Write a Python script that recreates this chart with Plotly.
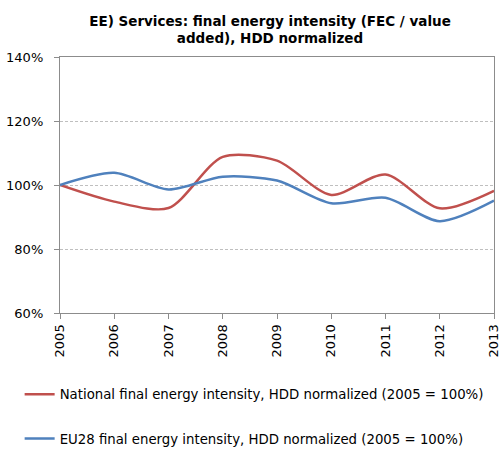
import plotly.graph_objects as go

years = ["2005", "2006", "2007", "2008", "2009", "2010", "2011", "2012", "2013"]
national = [100.0, 94.8, 92.8, 108.8, 107.6, 96.9, 103.3, 92.7, 98.2]
eu28 = [100.0, 103.8, 98.6, 102.6, 101.4, 94.3, 96.0, 88.7, 95.1]
y_ticks = [60, 80, 100, 120, 140]
y_tick_labels = ["60%", "80%", "100%", "120%", "140%"]
name_national = "National final energy intensity, HDD normalized (2005 = 100%)"
name_eu = "EU28 final energy intensity, HDD normalized (2005 = 100%)"
title = "EE) Services: final energy intensity (FEC / value<br>added), HDD normalized"

FONT = "DejaVu Sans, Liberation Sans, Arial, sans-serif"

fig = go.Figure()
fig.add_trace(go.Scatter(x=years, y=national, mode="lines", name=name_national,
                         line=dict(color="#C0504D", width=2.5, shape="spline", smoothing=0.8),
                         legendgroup="a"))
fig.add_trace(go.Scatter(x=years, y=eu28, mode="lines", name=name_eu,
                         line=dict(color="#4F81BD", width=2.5, shape="spline", smoothing=0.8),
                         legendgroup="b"))

fig.update_layout(
    width=502, height=454,
    margin=dict(l=60, r=8, t=57, b=141, autoexpand=False),
    paper_bgcolor="white", plot_bgcolor="white",
    font=dict(family=FONT, size=13, color="#000000"),
    title=dict(text="<b>" + title + "</b>", x=270 / 502, xref="container", xanchor="center",
               y=1 - 25.5 / 454, yref="container", yanchor="middle",
               font=dict(size=13.5, color="#000000"), automargin=False),
    showlegend=True,
    legend=dict(x=-0.093, y=-0.258, xanchor="left", yanchor="top", orientation="v",
                tracegroupgap=24, font=dict(size=13.3), bgcolor="rgba(0,0,0,0)"),
    xaxis=dict(type="category", range=[0, 8], showline=True, linecolor="#8c8c8c", linewidth=1.3,
               mirror=True, ticks="outside", ticklen=5, tickcolor="#8c8c8c", tickangle=-90,
               showgrid=False, zeroline=False, tickfont=dict(size=13), automargin=False),
    yaxis=dict(range=[60, 140], tickvals=y_ticks, ticktext=y_tick_labels, showline=True,
               linecolor="#8c8c8c", linewidth=1.3, mirror=True, ticks="outside", ticklen=5,
               tickcolor="#8c8c8c", showgrid=True, gridcolor="#BFBFBF", griddash="3px,2px",
               gridwidth=1, zeroline=False, tickfont=dict(size=13), automargin=False,
               ticklabelstandoff=8),
)

fig.write_html("out.html", config={"displayModeBar": False},
               post_script="document.body.style.margin='0';document.body.style.overflow='hidden';")
